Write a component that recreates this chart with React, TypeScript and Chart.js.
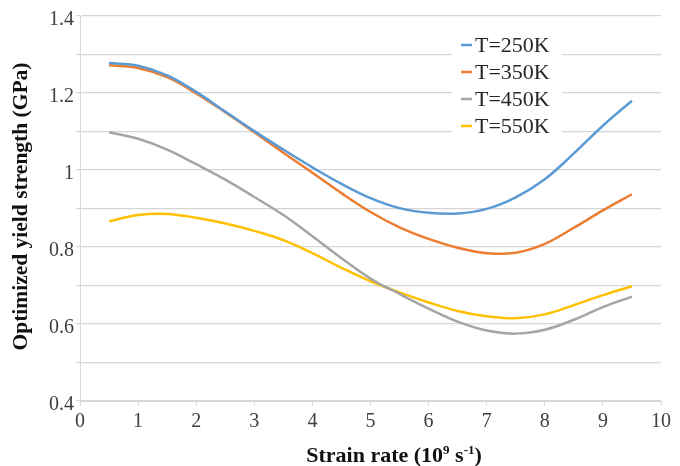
import React, { useEffect, useRef } from 'react';
import { Chart, registerables } from 'chart.js';

Chart.register(...registerables);

// ---- data ----
const strainRates = [0.5, 1, 1.5, 2, 2.5, 3, 3.5, 4, 4.5, 5, 5.5, 6, 6.5, 7, 7.5, 8, 8.5, 9, 9.5];
const t250 = [1.278, 1.271, 1.246, 1.203, 1.152, 1.101, 1.053, 1.007, 0.964, 0.927, 0.901, 0.889, 0.887, 0.899, 0.929, 0.976, 1.043, 1.115, 1.180];
const t350 = [1.272, 1.265, 1.241, 1.199, 1.150, 1.098, 1.045, 0.993, 0.940, 0.891, 0.851, 0.821, 0.798, 0.784, 0.785, 0.808, 0.850, 0.895, 0.937];
const t450 = [1.098, 1.081, 1.053, 1.015, 0.975, 0.930, 0.883, 0.828, 0.771, 0.718, 0.678, 0.640, 0.606, 0.583, 0.575, 0.585, 0.611, 0.644, 0.671];
const t550 = [0.867, 0.883, 0.886, 0.876, 0.861, 0.842, 0.818, 0.784, 0.746, 0.711, 0.682, 0.656, 0.634, 0.620, 0.615, 0.625, 0.649, 0.675, 0.698];
const seriesLabels = ['T=250K', 'T=350K', 'T=450K', 'T=550K'];
const seriesValues = [t250, t350, t450, t550];
const seriesColors = ['#5B9BD5', '#ED7D31', '#A5A5A5', '#FFC000'];
const xTitleParts = [
  { text: 'Strain rate (10', sup: false },
  { text: '9', sup: true },
  { text: ' s', sup: false },
  { text: '-1', sup: true },
  { text: ')', sup: false },
];
const yTitle = 'Optimized yield strength (GPa)';

const SERIF_NAME = 'Liberation Serif';
const SERIF = `"${SERIF_NAME}", "Times New Roman", serif`;
const GRID = '#d6d6d6';
const TEXT = '#404040';

const insideLegend = {
  id: 'insideLegend',
  beforeDatasetsDraw(chart: any) {
    const { ctx, chartArea } = chart;
    const boxLeft = chartArea.right - 209;
    const boxTop = chartArea.top + 14;
    ctx.save();
    ctx.fillStyle = '#ffffff';
    ctx.fillRect(boxLeft, boxTop, 110, 110);
    ctx.font = `22px ${SERIF}`;
    ctx.textBaseline = 'middle';
    ctx.textAlign = 'left';
    chart.data.datasets.forEach((ds: any, i: number) => {
      const cy = boxTop + 15 + i * 27;
      ctx.strokeStyle = ds.borderColor;
      ctx.lineWidth = 2.5;
      ctx.beginPath();
      ctx.moveTo(boxLeft + 9, cy);
      ctx.lineTo(boxLeft + 20, cy);
      ctx.stroke();
      ctx.fillStyle = '#262626';
      ctx.fillText(ds.label, boxLeft + 23, cy + 1);
    });
    ctx.restore();
  },
};

const axisTitles = {
  id: 'axisTitles',
  afterDraw(chart: any) {
    const { ctx, chartArea } = chart;
    ctx.save();
    ctx.fillStyle = '#111';
    // x title with superscripts
    const mainFont = `bold 22px ${SERIF}`;
    const supFont = `bold 13px ${SERIF}`;
    let total = 0;
    xTitleParts.forEach((p) => {
      ctx.font = p.sup ? supFont : mainFont;
      total += ctx.measureText(p.text).width;
    });
    let x = chartArea.left + 314 - total / 2;
    const baseY = chart.height - 4;
    ctx.textBaseline = 'alphabetic';
    ctx.textAlign = 'left';
    xTitleParts.forEach((p) => {
      ctx.font = p.sup ? supFont : mainFont;
      ctx.fillText(p.text, x, p.sup ? baseY - 8 : baseY);
      x += ctx.measureText(p.text).width;
    });
    // y title
    ctx.translate(21, (chartArea.top + chartArea.bottom) / 2 - 2);
    ctx.rotate(-Math.PI / 2);
    ctx.font = `bold 21.5px ${SERIF}`;
    ctx.textAlign = 'center';
    ctx.textBaseline = 'middle';
    ctx.fillText(yTitle, 0, 0);
    ctx.restore();
  },
};

export default function App() {
  const canvasRef = useRef<HTMLCanvasElement | null>(null);

  useEffect(() => {
    let chart: Chart | null = null;
    let cancelled = false;

    const build = () => {
      if (cancelled || !canvasRef.current) return;
      chart = new Chart(canvasRef.current, {
        type: 'line',
        data: {
          datasets: seriesLabels.map((label, i) => ({
            label,
            data: strainRates.map((x, j) => ({ x, y: seriesValues[i][j] })),
            borderColor: seriesColors[i],
            backgroundColor: seriesColors[i],
            borderWidth: 2.5,
            pointRadius: 0,
            fill: false,
            tension: 0.4,
          })),
        },
        options: {
          animation: false,
          responsive: false,
          layout: { padding: { top: 16, right: 19, left: 0, bottom: 0 } },
          plugins: {
            legend: { display: false },
            tooltip: { enabled: false },
            title: { display: false },
          },
          scales: {
            x: {
              type: 'linear',
              min: 0,
              max: 10,
              ticks: {
                stepSize: 1,
                color: TEXT,
                font: { family: SERIF, size: 20 },
                padding: 5,
                maxRotation: 0,
              },
              grid: {
                drawOnChartArea: false,
                drawTicks: true,
                tickLength: 4,
                color: GRID,
              },
              border: { display: true, color: GRID },
              afterFit(scale: any) {
                scale.height = 65;
              },
            },
            y: {
              type: 'linear',
              min: 0.4,
              max: 1.4,
              ticks: {
                stepSize: 0.1,
                color: TEXT,
                font: { family: SERIF, size: 20 },
                padding: 2,
                labelOffset: 4,
                callback: (v: any) => {
                  const n = Math.round(Number(v) * 10);
                  return n % 2 === 0 ? String(n / 10) : '';
                },
              },
              grid: {
                color: GRID,
                lineWidth: 1.2,
                tickLength: 4,
              },
              border: { display: true, color: GRID },
              afterFit(scale: any) {
                scale.width = 80;
              },
            },
          },
        },
        plugins: [insideLegend, axisTitles],
      });
    };

    const fonts: any = (document as any).fonts;
    if (fonts && fonts.load) {
      Promise.all([
        fonts.load(`20px "${SERIF_NAME}"`),
        fonts.load(`bold 20px "${SERIF_NAME}"`),
      ]).then(build, build);
    } else {
      build();
    }

    return () => {
      cancelled = true;
      if (chart) chart.destroy();
    };
  }, []);

  return (
    <div style={{ position: 'fixed', left: 0, top: 0, width: 680, height: 466, background: '#fff' }}>
      <canvas ref={canvasRef} width={680} height={466} />
    </div>
  );
}
